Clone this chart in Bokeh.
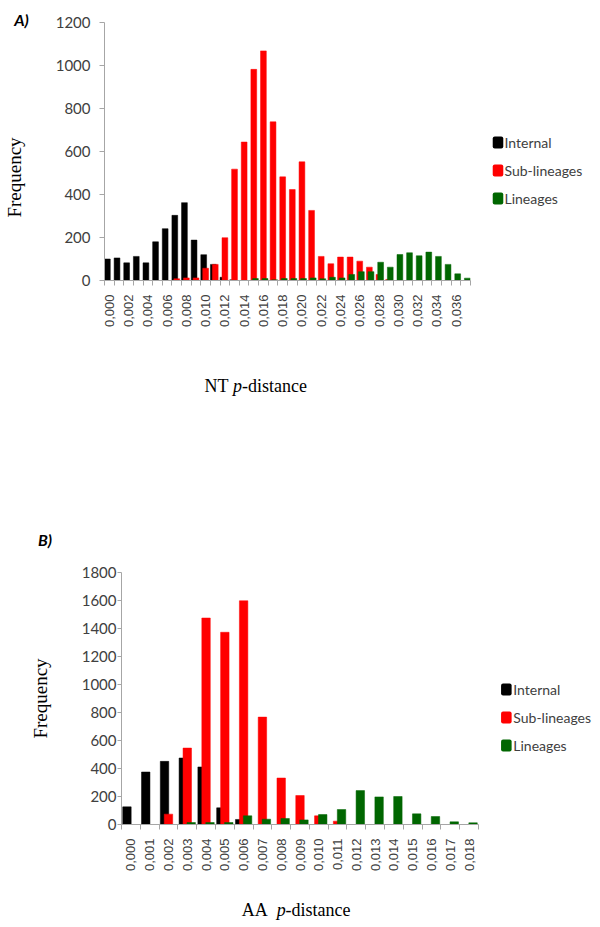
import math
from bokeh.plotting import figure
from bokeh.models import FixedTicker, Label, Range1d, Title
from bokeh.embed import file_html
from bokeh.resources import INLINE

# ---------------- data ----------------
nt_dist = ["0,000", "0,001", "0,002", "0,003", "0,004", "0,005", "0,006", "0,007", "0,008", "0,009",
           "0,010", "0,011", "0,012", "0,013", "0,014", "0,015", "0,016", "0,017", "0,018", "0,019",
           "0,020", "0,021", "0,022", "0,023", "0,024", "0,025", "0,026", "0,027", "0,028", "0,029",
           "0,030", "0,031", "0,032", "0,033", "0,034", "0,035", "0,036", "0,037"]
nt_internal = [100, 105, 82, 112, 82, 180, 241, 303, 362, 188,
               120, 75, 15, 3, 0, 0, 0, 0, 0, 0,
               0, 0, 0, 0, 0, 0, 0, 0, 0, 0,
               0, 0, 0, 0, 0, 0, 0, 0]
nt_sub = [0, 0, 0, 0, 0, 0, 0, 8, 12, 12,
          57, 75, 199, 518, 644, 982, 1068, 738, 482, 423,
          552, 326, 112, 78, 109, 109, 90, 62, 28, 5,
          0, 0, 0, 0, 0, 0, 0, 0]
nt_lin = [0, 0, 0, 0, 0, 0, 0, 0, 0, 0,
          0, 0, 0, 0, 0, 9, 9, 3, 9, 9,
          9, 12, 8, 15, 12, 28, 41, 41, 85, 62,
          121, 129, 115, 132, 112, 75, 31, 11]
nt_ticks = [0, 200, 400, 600, 800, 1000, 1200]

aa_dist = ["0,000", "0,001", "0,002", "0,003", "0,004", "0,005", "0,006", "0,007", "0,008", "0,009",
           "0,010", "0,011", "0,012", "0,013", "0,014", "0,015", "0,016", "0,017", "0,018"]
aa_internal = [126, 375, 451, 475, 411, 119, 36, 0, 0, 0, 0, 0, 0, 0, 0, 0, 0, 0, 0]
aa_sub = [0, 0, 74, 546, 1475, 1373, 1598, 767, 332, 207, 62, 24, 0, 0, 0, 0, 0, 0, 0]
aa_lin = [0, 0, 0, 14, 14, 14, 62, 38, 43, 33, 71, 107, 242, 197, 200, 76, 57, 19, 12]
aa_ticks = [0, 200, 400, 600, 800, 1000, 1200, 1400, 1600, 1800]

series_names = ["Internal", "Sub-lineages", "Lineages"]
series_colors = ["#000000", "#ff0000", "#006600"]

TICK_FONT = "Lato"
SERIF = "Liberation Serif"
GREY = "#404040"
AXIS_GREY = "#a6a6a6"
W = 600


def make_panel(cats, series, yticks, ymax, H, page_top, frame, offsets, bar_w,
               tick_out, ylab_std):
    fl, fr, ft, fb = frame  # frame edges in page px
    n = len(cats)
    p = figure(width=W, height=H, output_backend="svg", toolbar_location=None,
               x_range=Range1d(-0.5, n - 0.5), y_range=Range1d(0, ymax),
               min_border_left=fl, min_border_right=W - fr,
               min_border_top=ft - page_top, min_border_bottom=page_top + H - fb)
    p.outline_line_color = None
    p.grid.visible = False

    def dx(px):
        return -0.5 + (px - fl) * n / (fr - fl)

    def dy(py):
        return (fb - py) * ymax / (fb - ft)

    xs = list(range(n))
    for vals, off, col in zip(series, offsets, series_colors):
        p.vbar(x=[x + off for x in xs], top=vals, width=bar_w, bottom=0,
               fill_color=col, line_color=col, line_width=0.5)

    xa = p.xaxis[0]
    major = [i for i in xs if i % 2 == 0] if n > 30 else xs
    xa.ticker = FixedTicker(ticks=major, minor_ticks=[i - 0.5 for i in range(n + 1)])
    xa.major_label_overrides = {i: cats[i] for i in xs}
    xa.major_label_orientation = math.pi / 2
    xa.major_tick_out = 0
    xa.major_tick_in = 0
    xa.minor_tick_out = 5
    xa.minor_tick_in = 0
    xa.minor_tick_line_color = AXIS_GREY
    xa.axis_line_color = AXIS_GREY
    xa.major_label_standoff = 9
    xa.major_label_text_font = "Liberation Sans"
    xa.major_label_text_font_size = "13px"
    xa.major_label_text_color = GREY

    ya = p.yaxis[0]
    ya.ticker = FixedTicker(ticks=yticks, minor_ticks=[])
    ya.major_tick_out = tick_out
    ya.major_tick_in = 0
    ya.major_tick_line_color = AXIS_GREY
    ya.axis_line_color = AXIS_GREY
    ya.major_label_standoff = ylab_std
    ya.major_label_text_font = TICK_FONT
    ya.major_label_text_font_size = "15px"
    ya.major_label_text_color = GREY
    return p, dx, dy


def add_text(p, dx, dy, side, txt, px, py, font, size, style="normal",
             align="left", angle=0.0, color="black", line_height=1.2):
    p.add_layout(Label(x=dx(px), y=dy(py), text=txt, text_font=font,
                       text_font_style=style, text_font_size=size, angle=angle,
                       text_align=align, text_baseline="middle", text_color=color,
                       text_line_height=line_height), side)


def add_legend(p, dx, dy, sq_x, txt_x, mid_y):
    # coloured keys
    for i, col in enumerate(series_colors):
        p.add_layout(Label(x=dx(sq_x), y=dy(mid_y + (i - 1) * 28), text=" ",
                           text_font_size="2px", text_align="center", text_baseline="middle",
                           padding=5, border_radius=2, background_fill_color=col,
                           text_color=col), "right")
    add_text(p, dx, dy, "right", "\n".join(series_names), txt_x, mid_y, TICK_FONT, "14px",
             color=GREY, line_height=1.647)


# ---------------- panel A ----------------
pA, dxA, dyA = make_panel(nt_dist, [nt_internal, nt_sub, nt_lin], nt_ticks, 1200,
                          470, 0, (104, 470, 22, 280), (-0.2, 0.0, 0.17), 0.6, 5, 9)
add_text(pA, dxA, dyA, "left", "A)", 21, 19, TICK_FONT, "16px", "bold italic", "center")
add_text(pA, dxA, dyA, "below", "Frequency", 14, 177, SERIF, "19px", "normal", "center", math.pi / 2)
add_text(pA, dxA, dyA, "below", "NT ", 204, 385, SERIF, "18px")
add_text(pA, dxA, dyA, "below", "p", 232.5, 385, SERIF, "18px", "italic")
add_text(pA, dxA, dyA, "below", "-distance", 241.5, 385, SERIF, "18px")
add_legend(pA, dxA, dyA, 497.5, 504, 170)

# ---------------- panel B ----------------
pB, dxB, dyB = make_panel(aa_dist, [aa_internal, aa_sub, aa_lin], aa_ticks, 1800,
                          450, 470, (119, 478, 572, 824), (-0.21, 0.0, 0.21), 0.45, 4, 1)
add_text(pB, dxB, dyB, "above", "B)", 42, 539, TICK_FONT, "16px", "bold italic", "center")
pB.add_layout(Title(text="Frequency", text_font=SERIF, text_font_size="19px",
                    text_font_style="normal", align="center",
                    standoff=55, text_color="black"), "left")
add_text(pB, dxB, dyB, "below", "AA  ", 240, 909, SERIF, "18px")
add_text(pB, dxB, dyB, "above", "p", 275, 909, SERIF, "18px", "italic")
add_text(pB, dxB, dyB, "above", "-distance", 284, 909, SERIF, "18px")
add_legend(pB, dxB, dyB, 506, 513, 717)

open("out.html", "w").write(file_html([pA, pB], INLINE))
